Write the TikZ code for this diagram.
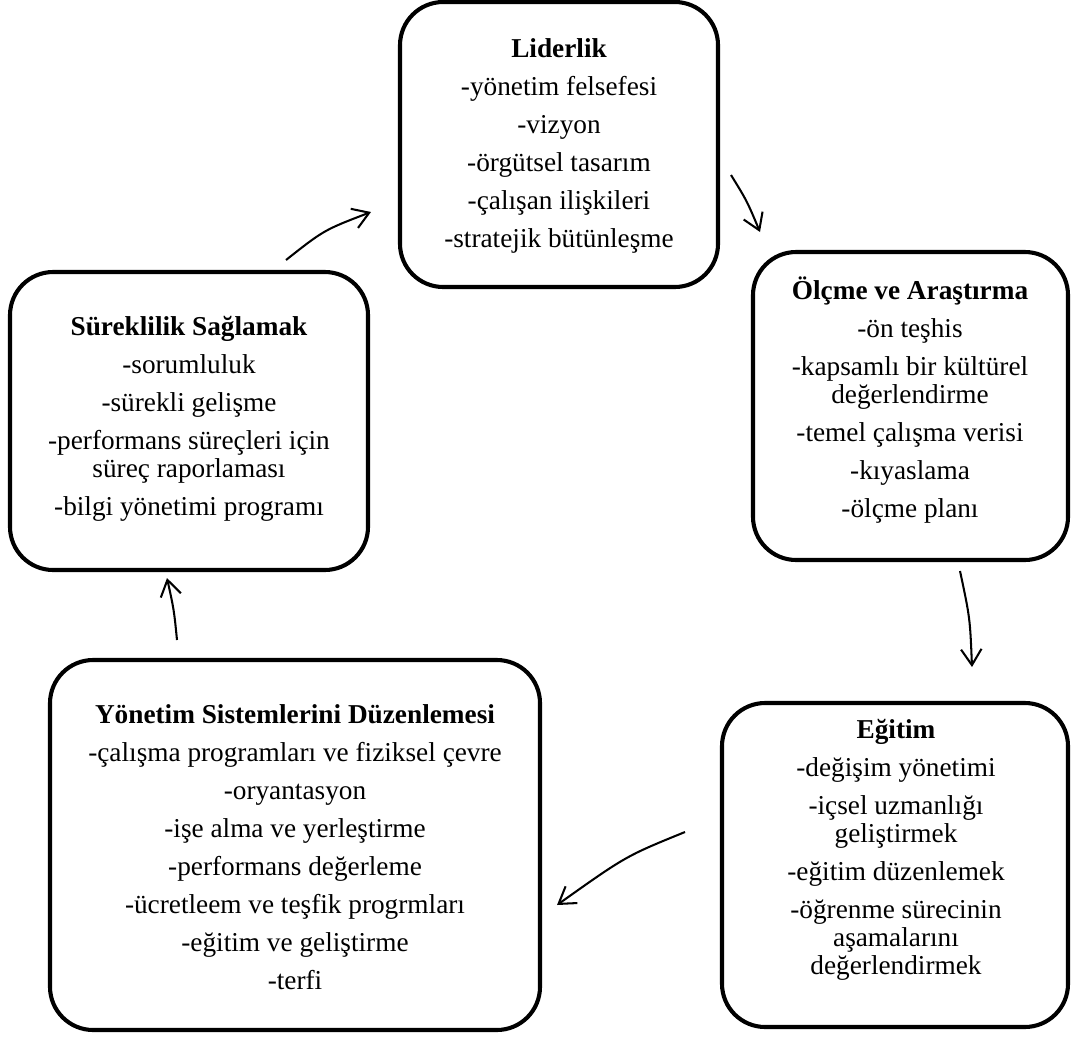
\documentclass[tikz,border=0pt]{standalone}
\usepackage{fontspec}
\setmainfont{Liberation Serif}
\usetikzlibrary{arrows.meta,fit}
\setlength{\lineskiplimit}{-20pt}

\tikzset{
  box/.style={draw, line width=1.8pt, rounded corners=19pt, inner sep=0pt},
  txt/.style={align=center, inner sep=0pt,
    font=\fontsize{12pt}{12.3pt}\selectfont},
  flow/.style={line width=0.9pt, -{Straight Barb[length=7pt,width=9pt]}}
}

\begin{document}
\begin{tikzpicture}[x=0.44pt, y=-0.44pt]
    \useasboundingbox (0,0) rectangle (1071,1036);

    % the five boxes of the cycle
    \node[box, fit={(400,2) (718,287)}] (lid) {};
    \node[box, fit={(753,252) (1068,560)}] (olc) {};
    \node[box, fit={(722,703) (1068,1027)}] (egt) {};
    \node[box, fit={(50,660) (540,1030)}] (yon) {};
    \node[box, fit={(10,272) (368,570)}] (sur) {};

    % texts
    \node[txt] (lidT) at (559,146) {\textbf{Liderlik}\\[4.4pt]
        -yönetim felsefesi\\[4.4pt] -vizyon\\[4.4pt] -örgütsel tasarım\\[4.4pt]
        -çalışan ilişkileri\\[4.4pt] -stratejik bütünleşme};
    \node[txt] (olcT) at (910,400) {\textbf{Ölçme ve Araştırma}\\[4.4pt]
        -ön teşhis\\[4.4pt] -kapsamlı bir kültürel\\ değerlendirme\\[4.4pt]
        -temel çalışma verisi\\[4.4pt] -kıyaslama\\[4.4pt] -ölçme planı};
    \node[txt] (egtT) at (896,850) {\textbf{Eğitim}\\[4.4pt]
        -değişim yönetimi\\[4.4pt] -içsel uzmanlığı\\ geliştirmek\\[4.4pt]
        -eğitim düzenlemek\\[4.4pt] -öğrenme sürecinin\\ aşamalarını\\ değerlendirmek};
    \node[txt] (yonT) at (295,847) {\textbf{Yönetim Sistemlerini Düzenlemesi}\\[4.4pt]
        -çalışma programları ve fiziksel çevre\\[4.4pt] -oryantasyon\\[4.4pt]
        -işe alma ve yerleştirme\\[4.4pt] -performans değerleme\\[4.4pt]
        -ücretleem ve teşfik progrmları\\[4.4pt] -eğitim ve geliştirme\\[4.4pt] -terfi};
    \node[txt] (surT) at (189,419) {\textbf{Süreklilik Sağlamak}\\[4.4pt]
        -sorumluluk\\[4.4pt] -sürekli gelişme\\[4.4pt]
        -performans süreçleri için\\ süreç raporlaması\\[4.4pt] -bilgi yönetimi programı};

    % free arrow ends between the boxes
    \coordinate (a1) at (286,260);
    \coordinate (b1) at (371,212);
    \coordinate (a2) at (731,175);
    \coordinate (b2) at (760,232);
    \coordinate (a3) at (960,571);
    \coordinate (b3) at (972,667);
    \coordinate (a4) at (685,832);
    \coordinate (b4) at (557,905);
    \coordinate (a5) at (177,640);
    \coordinate (b5) at (167,578);

    \draw[flow] (a1) .. controls (324,230) .. (b1);
    \draw[flow] (a2) .. controls (747,201) .. (b2);
    \draw[flow] (a3) .. controls (970,618) .. (b3);
    \draw[flow] (a4) .. controls (626,856) .. (b4);
    \draw[flow] (a5) .. controls (174,610) .. (b5);
\end{tikzpicture}
\end{document}
